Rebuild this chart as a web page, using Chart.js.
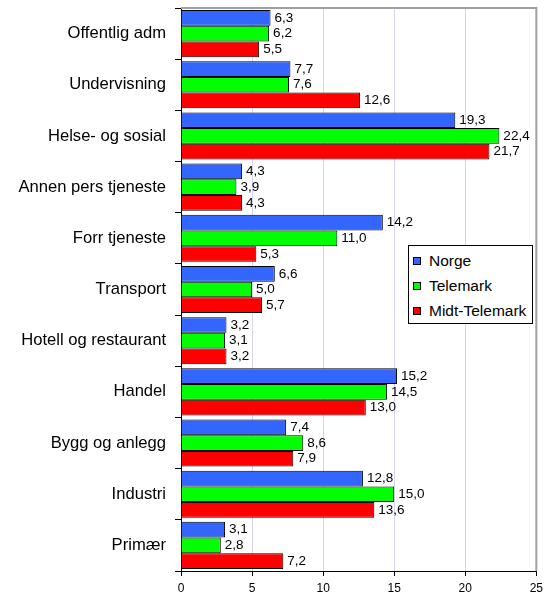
<!DOCTYPE html>
<html>
<head>
<meta charset="utf-8">
<script src="https://cdn.jsdelivr.net/npm/chart.js@4"></script>
<style>
    body { margin: 0; background: #fff; }
    #wrap { position: relative; width: 548px; height: 595px; }
    #legend {
        position: absolute; left: 408px; top: 245px; width: 123px; height: 77px;
        border: 1px solid #000; background: #fff;
        font-family: "Liberation Sans", Arial, sans-serif; font-size: 15.5px; color: #000;
    }
    #legend div { position: absolute; left: 4px; height: 18px; line-height: 18px; white-space: nowrap; }
    #legend span {
        display: inline-block; width: 6px; height: 6px; border: 1px solid #000;
        margin-right: 8px; vertical-align: 1px;
    }
</style>
</head>
<body>
<div id="wrap">
    <canvas id="chart" width="548" height="595"></canvas>
    <div id="legend"></div>
</div>
<script>
const categories = ['Offentlig adm', 'Undervisning', 'Helse- og sosial', 'Annen pers tjeneste',
    'Forr tjeneste', 'Transport', 'Hotell og restaurant', 'Handel', 'Bygg og anlegg', 'Industri', 'Primær'];
const norge = [6.3, 7.7, 19.3, 4.3, 14.2, 6.6, 3.2, 15.2, 7.4, 12.8, 3.1];
const telemark = [6.2, 7.6, 22.4, 3.9, 11.0, 5.0, 3.1, 14.5, 8.6, 15.0, 2.8];
const midtTelemark = [5.5, 12.6, 21.7, 4.3, 5.3, 5.7, 3.2, 13.0, 7.9, 13.6, 7.2];
const seriesNames = ['Norge', 'Telemark', 'Midt-Telemark'];
const seriesColors = ['#3366ff', '#00ff00', '#ff0000'];
const xTicks = [0, 5, 10, 15, 20, 25];

const FONT = '"Liberation Sans", Arial, sans-serif';

// verdier ved enden av hver stolpe, med komma
const valueLabels = {
    id: 'valueLabels',
    afterDatasetsDraw(chart) {
        const ctx = chart.ctx;
        ctx.save();
        ctx.font = '13.5px ' + FONT;
        ctx.fillStyle = '#000';
        ctx.textBaseline = 'middle';
        chart.data.datasets.forEach((ds, i) => {
            chart.getDatasetMeta(i).data.forEach((bar, j) => {
                ctx.fillText(ds.data[j].toFixed(1).replace('.', ','), bar.x + 4, bar.y);
            });
        });
        ctx.restore();
    }
};

// grå ramme topp og høyre
const plotBorder = {
    id: 'plotBorder',
    beforeDatasetsDraw(chart) {
        const { ctx, chartArea: a } = chart;
        ctx.save();
        ctx.strokeStyle = '#a0a0a0';
        ctx.lineWidth = 2;
        ctx.beginPath();
        ctx.moveTo(a.left, a.top);
        ctx.lineTo(a.right, a.top);
        ctx.lineTo(a.right, a.bottom);
        ctx.stroke();
        ctx.restore();
    }
};

new Chart(document.getElementById('chart'), {
    type: 'bar',
    data: {
        labels: categories,
        datasets: [norge, telemark, midtTelemark].map((d, i) => ({
            label: seriesNames[i],
            data: d,
            backgroundColor: seriesColors[i],
            borderColor: '#000',
            borderWidth: 1,
            barPercentage: 1,
            categoryPercentage: 0.92
        }))
    },
    options: {
        indexAxis: 'y',
        responsive: false,
        animation: false,
        layout: { padding: { top: 8, right: 9, left: 0, bottom: 0 } },
        plugins: { legend: { display: false }, tooltip: { enabled: false } },
        scales: {
            y: {
                grid: { offset: true, drawOnChartArea: false, tickColor: '#000', tickLength: 6 },
                border: { color: '#000' },
                ticks: { color: '#000', font: { family: FONT, size: 16.6 }, padding: 9 },
                afterFit: s => { s.width = 181; s.paddingTop = 0; s.paddingBottom = 0; }
            },
            x: {
                min: 0,
                max: 25,
                grid: { color: '#d4d4f4', tickColor: '#000', tickLength: 5 },
                border: { color: '#000' },
                afterBuildTicks: s => { s.ticks = xTicks.map(v => ({ value: v })); },
                ticks: { color: '#000', font: { family: FONT, size: 12 }, padding: 5 },
                afterFit: s => { s.height = 24; }
            }
        }
    },
    plugins: [plotBorder, valueLabels]
});

const legendEl = document.getElementById('legend');
seriesNames.forEach((name, i) => {
    const row = document.createElement('div');
    row.style.top = (6 + i * 25) + 'px';
    row.innerHTML = `<span style="background:${seriesColors[i]}"></span>${name}`;
    legendEl.appendChild(row);
});
</script>
</body>
</html>
